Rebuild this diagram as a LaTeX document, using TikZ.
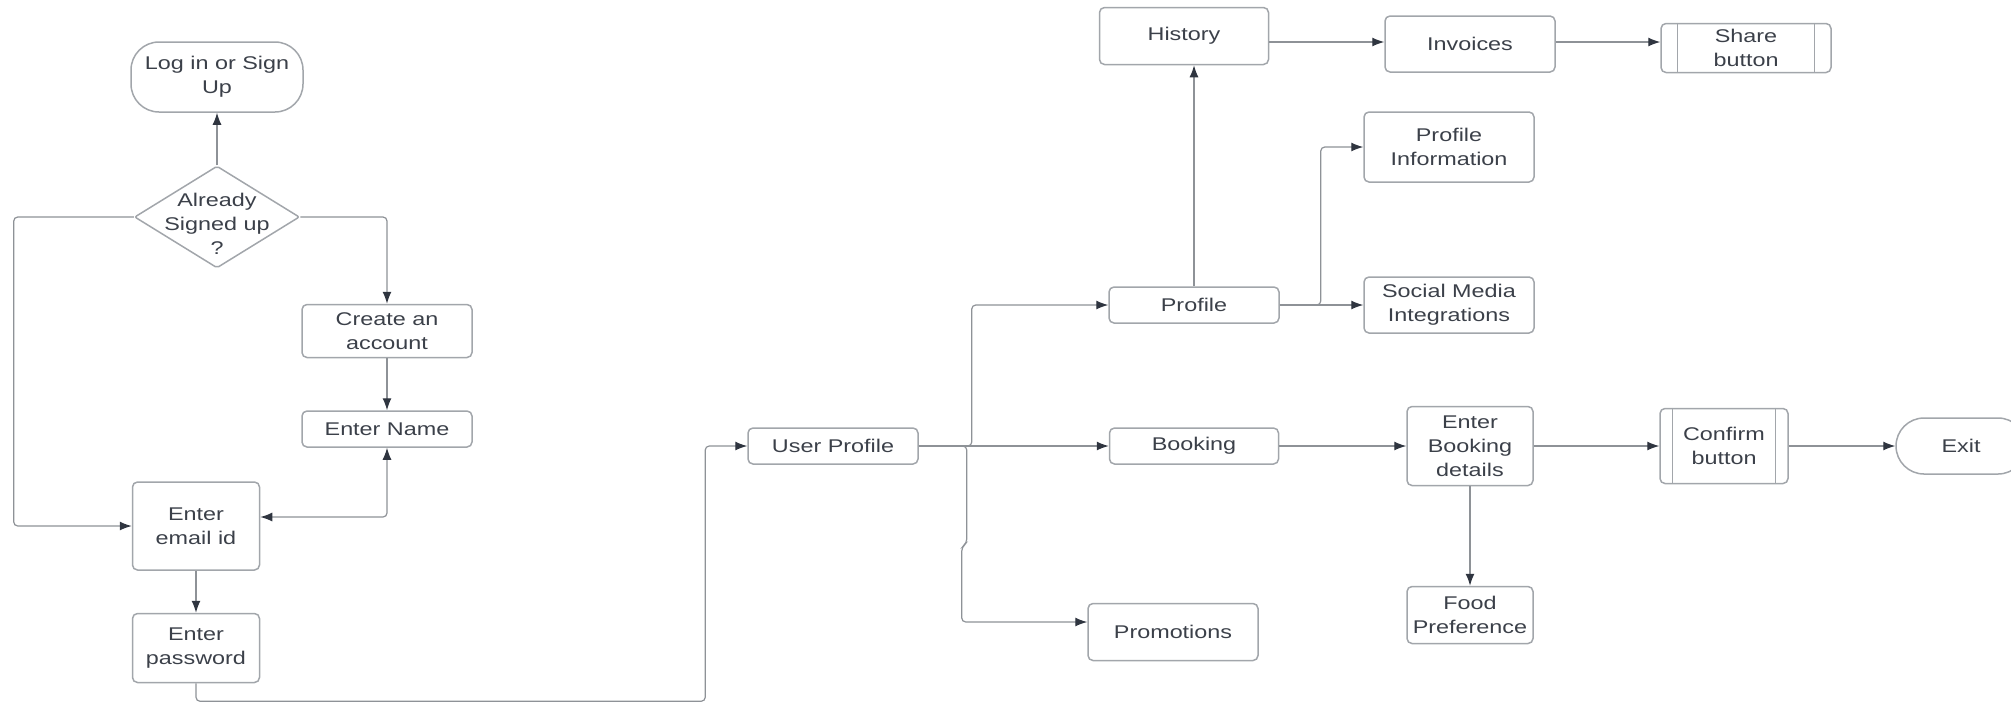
\documentclass[tikz,border=0pt]{standalone}
\usepackage{fontspec}
\setmainfont{Liberation Sans}[FakeStretch=1.27]
\usepackage{tikz}
\usetikzlibrary{arrows.meta,shapes.geometric}

\definecolor{boxgray}{HTML}{A2A6AB}
\definecolor{linegray}{HTML}{8E9297}
\definecolor{tipdark}{HTML}{2F3540}
\definecolor{txtgray}{HTML}{3B4049}

\tikzset{
  box/.style={draw=boxgray,line width=0.75pt,rounded corners=2.5pt,inner sep=0pt,align=center,
    text=txtgray,font=\fontsize{9.2}{12}\selectfont},
  term/.style={box,rounded corners=14pt},
  decision/.style={box,diamond,rounded corners=1pt,inner xsep=-12pt,inner ysep=-14pt,aspect=1.6},
  conn/.style={draw=linegray,line width=0.6pt,rounded corners=2pt,->},
  >={Latex[length=6pt,width=4.5pt,color=tipdark]}
}

\begin{document}
\begin{tikzpicture}[x=0.5pt,y=-0.5pt]
  \useasboundingbox (0,0) rectangle (2011,703);
  % sign in part
  \node[term,minimum width=86pt,minimum height=35pt](login)at(217,77){Log in or Sign\\Up};
  \node[decision,minimum width=82.5pt,minimum height=51pt](signed)at(217,217)
    {\begin{tabular}{@{}c@{}}\rule{0pt}{17.4pt}Already\\Signed up\\?\end{tabular}};
  \node[box,minimum width=85pt,minimum height=26.5pt](create)at(387,331){Create an\\account};
  \node[box,minimum width=85pt,minimum height=18pt](name)at(387,429){Enter Name};
  \node[box,minimum width=63.5pt,minimum height=44pt](email)at(196,526){Enter\\email id};
  \node[box,minimum width=63.5pt,minimum height=34.5pt](password)at(196,648){Enter\\password};
  % user profile part
  \node[box,minimum width=85pt,minimum height=18pt](userprofile)at(833,446){User Profile};
  \node[box,minimum width=85pt,minimum height=18pt](profile)at(1194,305){Profile};
  \node[box,minimum width=84.5pt,minimum height=28.5pt](history)at(1184,36){History};
  \node[box,minimum width=85pt,minimum height=28pt](invoices)at(1470,44){Invoices};
  \node[box,minimum width=85pt,minimum height=24.5pt](share)at(1746,48){Share\\button};
  \node[box,minimum width=85pt,minimum height=35pt](profinfo)at(1449,147){Profile\\Information};
  \node[box,minimum width=85pt,minimum height=28pt](social)at(1449,305){Social Media\\Integrations};
  \node[box,minimum width=84.5pt,minimum height=18pt](booking)at(1194,446){Booking};
  \node[box,minimum width=63pt,minimum height=39.5pt](details)at(1470,446){Enter\\Booking\\details};
  \node[box,minimum width=64pt,minimum height=37.5pt](confirm)at(1724,446){Confirm\\button};
  \node[term,minimum width=65pt,minimum height=28pt](exit)at(1961,446){Exit};
  \node[box,minimum width=63pt,minimum height=28.5pt](food)at(1470,615){Food\\Preference};
  \node[box,minimum width=85pt,minimum height=28.5pt](promo)at(1173,632){Promotions};
  % inner lines of the button boxes
  \draw[boxgray,line width=0.6pt] ([xshift=8.5pt]share.north west) -- ([xshift=8.5pt]share.south west);
  \draw[boxgray,line width=0.6pt] ([xshift=-8.5pt]share.north east) -- ([xshift=-8.5pt]share.south east);
  \draw[boxgray,line width=0.6pt] ([xshift=6.5pt]confirm.north west) -- ([xshift=6.5pt]confirm.south west);
  \draw[boxgray,line width=0.6pt] ([xshift=-6.5pt]confirm.north east) -- ([xshift=-6.5pt]confirm.south east);
  % connectors
  \coordinate (invrow) at ([yshift=1pt]invoices.east);
  \draw[conn] (signed.north) -- (login.south);
  \draw[conn] (signed.west) -- ++(-120,0) |- (email.west);
  \draw[conn] (signed.east) -| (create.north);
  \draw[conn] (create.south) -- (name.north);
  \draw[conn,<->] (name.south) |- ([yshift=4.5pt]email.east);
  \draw[conn] (email.south) -- (password.north);
  \draw[conn] (password.south) -- ++(0,18) -| ([xshift=-21pt]userprofile.west) -- (userprofile.west);
  \draw[conn] (userprofile.east) -- ++(53,0) |- (profile.west);
  \draw[conn] (userprofile.east) -- (booking.west);
  \draw[conn] (userprofile.east) -- ++(48,0) -- ++(0,97) -- ++(-5,4) |- ([yshift=5pt]promo.west);
  \draw[conn] (profile.north) -- (profile.north |- history.south);
  \draw[conn] (history.east |- invrow) -- (invrow -| invoices.west);
  \draw[conn] (invrow) -- (invrow -| share.west);
  \draw[conn] (profile.east) -- ++(41,0) |- (profinfo.west);
  \draw[conn] (profile.east) -- (social.west);
  \draw[conn] (booking.east) -- (details.west);
  \draw[conn] (details.east) -- (confirm.west);
  \draw[conn] (confirm.east) -- (exit.west);
  \draw[conn] (details.south) -- (food.north);
\end{tikzpicture}
\end{document}
